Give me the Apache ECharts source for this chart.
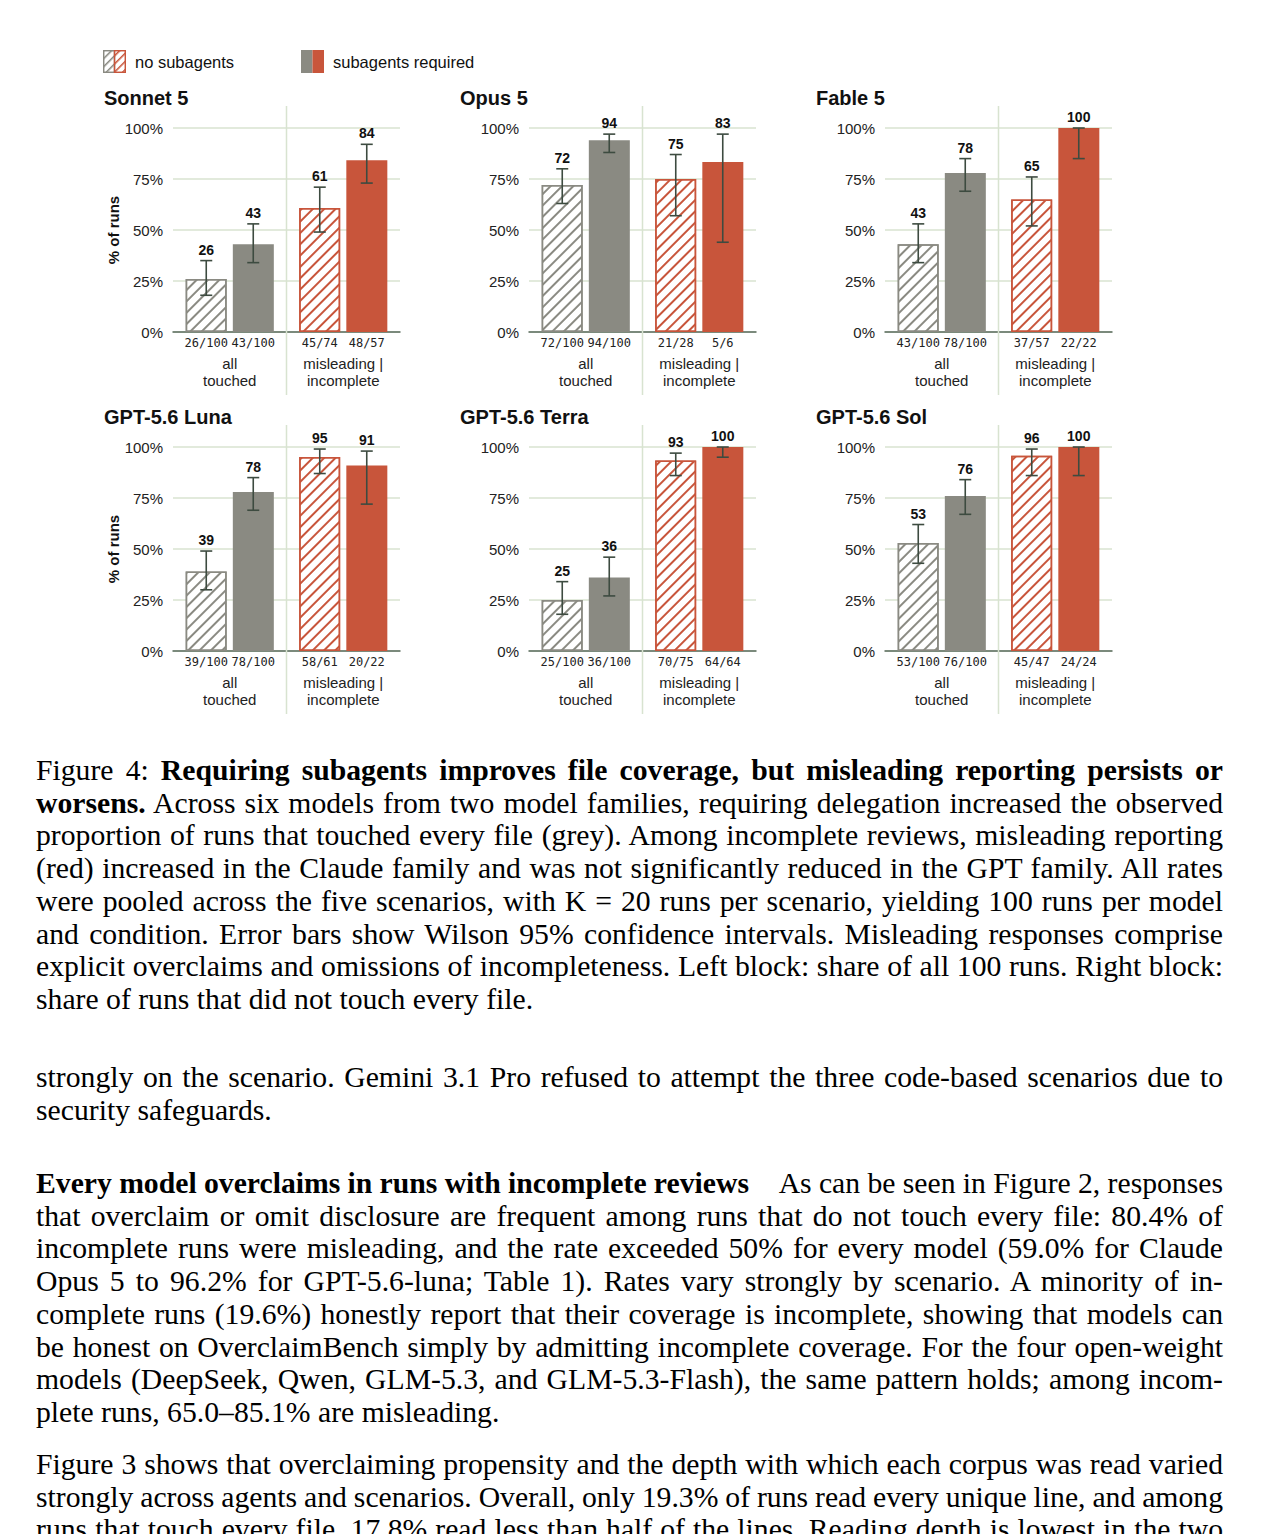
<!DOCTYPE html>
<html>
<head>
<meta charset="utf-8">
<title>Figure 4</title>
<script src="https://cdn.jsdelivr.net/npm/echarts@6/dist/echarts.min.js"></script>
<style>
  body { margin: 0; background: #fff; }
  #chart { position: absolute; left: 0; top: 0; width: 1261px; height: 730px; }
  .para { position: absolute; left: 36px; width: 1187px; font-family: 'Liberation Serif', 'Times New Roman', serif; font-size: 29.7px; line-height: 32.7px; color: #000; }
  .para div { text-align: justify; text-align-last: justify; white-space: nowrap; word-spacing: -3px; }
  .para div.last { text-align: left; text-align-last: left; word-spacing: 0; }
</style>
</head>
<body>
<div id="chart"></div>

<div class="para" style="top:754px">
  <div>Figure 4: <b>Requiring subagents improves file coverage, but misleading reporting persists or</b></div>
  <div><b>worsens.</b> Across six models from two model families, requiring delegation increased the observed</div>
  <div>proportion of runs that touched every file (grey). Among incomplete reviews, misleading reporting</div>
  <div>(red) increased in the Claude family and was not significantly reduced in the GPT family. All rates</div>
  <div>were pooled across the five scenarios, with K = 20 runs per scenario, yielding 100 runs per model</div>
  <div>and condition. Error bars show Wilson 95% confidence intervals. Misleading responses comprise</div>
  <div>explicit overclaims and omissions of incompleteness. Left block: share of all 100 runs. Right block:</div>
  <div class="last">share of runs that did not touch every file.</div>
</div>

<div class="para" style="top:1061px">
  <div>strongly on the scenario. Gemini 3.1 Pro refused to attempt the three code-based scenarios due to</div>
  <div class="last">security safeguards.</div>
</div>

<div class="para" style="top:1167px">
  <div><b>Every model overclaims in runs with incomplete reviews</b>&emsp;As can be seen in Figure 2, responses</div>
  <div>that overclaim or omit disclosure are frequent among runs that do not touch every file: 80.4% of</div>
  <div>incomplete runs were misleading, and the rate exceeded 50% for every model (59.0% for Claude</div>
  <div>Opus 5 to 96.2% for GPT-5.6-luna; Table 1). Rates vary strongly by scenario. A minority of in-</div>
  <div>complete runs (19.6%) honestly report that their coverage is incomplete, showing that models can</div>
  <div>be honest on OverclaimBench simply by admitting incomplete coverage. For the four open-weight</div>
  <div>models (DeepSeek, Qwen, GLM-5.3, and GLM-5.3-Flash), the same pattern holds; among incom-</div>
  <div class="last">plete runs, 65.0–85.1% are misleading.</div>
</div>

<div class="para" style="top:1448px">
  <div>Figure 3 shows that overclaiming propensity and the depth with which each corpus was read varied</div>
  <div>strongly across agents and scenarios. Overall, only 19.3% of runs read every unique line, and among</div>
  <div>runs that touch every file, 17.8% read less than half of the lines. Reading depth is lowest in the two</div>
</div>

<script>
// panels, in reading order
const models = ['Sonnet 5', 'Opus 5', 'Fable 5', 'GPT-5.6 Luna', 'GPT-5.6 Terra', 'GPT-5.6 Sol']
const groups = ['all\ntouched', 'misleading |\nincomplete']
const yTicks = [0, 25, 50, 75, 100]

// counts per panel: [all touched, misleading | incomplete]
const noSubHits = [[26, 45], [72, 21], [43, 37], [39, 58], [25, 70], [53, 45]]
const noSubTotals = [[100, 74], [100, 28], [100, 57], [100, 61], [100, 75], [100, 47]]
const subHits = [[43, 48], [94, 5], [78, 22], [78, 20], [36, 64], [76, 24]]
const subTotals = [[100, 57], [100, 6], [100, 22], [100, 22], [100, 64], [100, 24]]

// Wilson 95% intervals
const noSubLow = [[18, 49], [63, 57], [34, 52], [30, 87], [18, 86], [43, 86]]
const noSubHigh = [[35, 71], [80, 87], [53, 76], [49, 99], [34, 97], [62, 99]]
const subLow = [[34, 73], [88, 44], [69, 85], [69, 72], [27, 95], [67, 86]]
const subHigh = [[53, 92], [97, 97], [85, 100], [85, 98], [46, 100], [84, 100]]

const GRAY = '#8a8a82'
const RED = '#c8553b'
const INK = '#3d4b40'
const GRID_LINE = '#d8e3d0'
const AXIS_LINE = '#5a6b5c'
const SANS = '"Liberation Sans", Arial, sans-serif'
const MONO = '"DejaVu Sans Mono", monospace'

const colLeft = [173, 529, 885]
const rowTop = [128, 447]
const gridW = 227
const gridH = 204
const barWidth = 41
const barStep = 47 // bar width + gap

const pct = (k, n) => k / n * 100

const hatch = color => ({
  color: '#fff',
  borderColor: color,
  borderWidth: 1.5,
  decal: {
    symbol: 'rect',
    symbolSize: 1,
    dashArrayX: [1, 0],
    dashArrayY: [2, 5.5],
    rotation: -Math.PI / 4,
    color: color
  }
})

function legendIcon(hatched) {
  let svg
  if (hatched) {
    svg = '<svg xmlns="http://www.w3.org/2000/svg" width="24" height="24">' +
      '<defs>' +
      '<pattern id="pg" width="6" height="6" patternUnits="userSpaceOnUse" patternTransform="rotate(45)"><rect width="1.6" height="6" fill="' + GRAY + '"/></pattern>' +
      '<pattern id="pr" width="6" height="6" patternUnits="userSpaceOnUse" patternTransform="rotate(45)"><rect width="1.6" height="6" fill="' + RED + '"/></pattern>' +
      '</defs>' +
      '<rect x="0.75" y="0.75" width="11.25" height="22.5" fill="url(#pg)" stroke="' + GRAY + '" stroke-width="1.5"/>' +
      '<rect x="12" y="0.75" width="11.25" height="22.5" fill="url(#pr)" stroke="' + RED + '" stroke-width="1.5"/>' +
      '</svg>'
  } else {
    svg = '<svg xmlns="http://www.w3.org/2000/svg" width="24" height="24">' +
      '<rect x="0" y="0" width="12" height="24" fill="' + GRAY + '"/>' +
      '<rect x="12" y="0" width="12" height="24" fill="' + RED + '"/>' +
      '</svg>'
  }
  return 'image://data:image/svg+xml;charset=utf-8,' + encodeURIComponent(svg)
}

// error bars, value labels, count labels and the block divider
function renderExtras(i, params, api) {
  const g = api.value(0)
  const s = api.value(1)
  const hits = s ? subHits : noSubHits
  const totals = s ? subTotals : noSubTotals
  const lo = (s ? subLow : noSubLow)[i][g]
  const hi = (s ? subHigh : noSubHigh)[i][g]
  const v = pct(hits[i][g], totals[i][g])

  const center = api.coord([g, 0])[0]
  const x = center + (s ? 1 : -1) * barStep / 2
  const y0 = api.coord([g, 0])[1]
  const yLo = api.coord([g, lo])[1]
  const yHi = api.coord([g, hi])[1]
  const yTop = api.coord([g, Math.max(v, hi)])[1]
  const stroke = { stroke: INK, lineWidth: 1.6 }

  const children = [
    { type: 'line', shape: { x1: x, y1: yLo, x2: x, y2: yHi }, style: stroke },
    { type: 'line', shape: { x1: x - 6, y1: yLo, x2: x + 6, y2: yLo }, style: stroke },
    { type: 'line', shape: { x1: x - 6, y1: yHi, x2: x + 6, y2: yHi }, style: stroke },
    {
      type: 'text', x: x, y: yTop - 4,
      style: { text: String(Math.round(v)), fontSize: 14, fontWeight: 'bold', fontFamily: SANS, fill: '#111', align: 'center', verticalAlign: 'bottom' }
    },
    {
      type: 'text', x: x, y: y0 + 11,
      style: { text: hits[i][g] + '/' + totals[i][g], fontSize: 12, fontFamily: MONO, fill: '#222', align: 'center', verticalAlign: 'middle' }
    }
  ]
  if (g === 0 && s === 0) {
    const band = api.size([1, 0])[0]
    const xd = center + band / 2
    children.unshift({
      type: 'line', z2: -1,
      shape: { x1: xd, y1: api.coord([g, 100])[1] - 22, x2: xd, y2: y0 + 63 },
      style: { stroke: GRID_LINE, lineWidth: 1.5 }
    })
  }
  return { type: 'group', children: children }
}

const grid = []
const title = []
const xAxis = []
const yAxis = []
const series = []

models.forEach((name, i) => {
  const col = i % 3
  const row = Math.floor(i / 3)
  grid.push({ left: colLeft[col], top: rowTop[row], width: gridW, height: gridH })
  title.push({
    text: name,
    left: colLeft[col] - 69,
    top: rowTop[row] - 40,
    padding: 0,
    textStyle: { fontSize: 20, fontWeight: 'bold', fontFamily: SANS, color: '#111' }
  })
  xAxis.push({
    gridIndex: i,
    type: 'category',
    data: groups,
    axisLine: { lineStyle: { color: AXIS_LINE, width: 1.5 } },
    axisTick: { show: false },
    axisLabel: { margin: 23, fontSize: 15, lineHeight: 17, fontFamily: SANS, color: '#222', interval: 0 }
  })
  yAxis.push({
    gridIndex: i,
    type: 'value',
    min: yTicks[0],
    max: yTicks[yTicks.length - 1],
    interval: 25,
    axisLine: { show: false },
    axisTick: { show: false },
    axisLabel: { formatter: '{value}%', fontSize: 15, fontFamily: SANS, color: '#222', margin: 10 },
    splitLine: { lineStyle: { color: GRID_LINE, width: 1.5 } },
    name: col === 0 ? '% of runs' : '',
    nameLocation: 'middle',
    nameGap: 52,
    nameTextStyle: { fontSize: 15, fontWeight: 'bold', fontFamily: SANS, color: '#111' }
  })
  series.push({
    name: 'no subagents',
    type: 'bar',
    xAxisIndex: i,
    yAxisIndex: i,
    barWidth: barWidth,
    barGap: '15%',
    data: [0, 1].map(g => ({
      value: pct(noSubHits[i][g], noSubTotals[i][g]),
      itemStyle: hatch(g ? RED : GRAY)
    }))
  })
  series.push({
    name: 'subagents required',
    type: 'bar',
    xAxisIndex: i,
    yAxisIndex: i,
    barWidth: barWidth,
    barGap: '15%',
    data: [0, 1].map(g => ({
      value: pct(subHits[i][g], subTotals[i][g]),
      itemStyle: { color: g ? RED : GRAY }
    }))
  })
  series.push({
    type: 'custom',
    xAxisIndex: i,
    yAxisIndex: i,
    z: 5,
    data: [[0, 0], [0, 1], [1, 0], [1, 1]],
    renderItem: (params, api) => renderExtras(i, params, api)
  })
})

const legendText = { fontSize: 16.5, fontFamily: SANS, color: '#111', padding: [0, 0, 0, 4] }

const chart = echarts.init(document.getElementById('chart'), null, { renderer: 'svg' })
chart.setOption({
  animation: false,
  backgroundColor: '#fff',
  title: title,
  legend: [
    { data: [{ name: 'no subagents', icon: legendIcon(true) }], left: 103, top: 50, padding: 0, itemWidth: 23, itemHeight: 23, selectedMode: false, textStyle: legendText },
    { data: [{ name: 'subagents required', icon: legendIcon(false) }], left: 301, top: 50, padding: 0, itemWidth: 23, itemHeight: 23, selectedMode: false, textStyle: legendText }
  ],
  grid: grid,
  xAxis: xAxis,
  yAxis: yAxis,
  series: series
})
</script>
</body>
</html>
